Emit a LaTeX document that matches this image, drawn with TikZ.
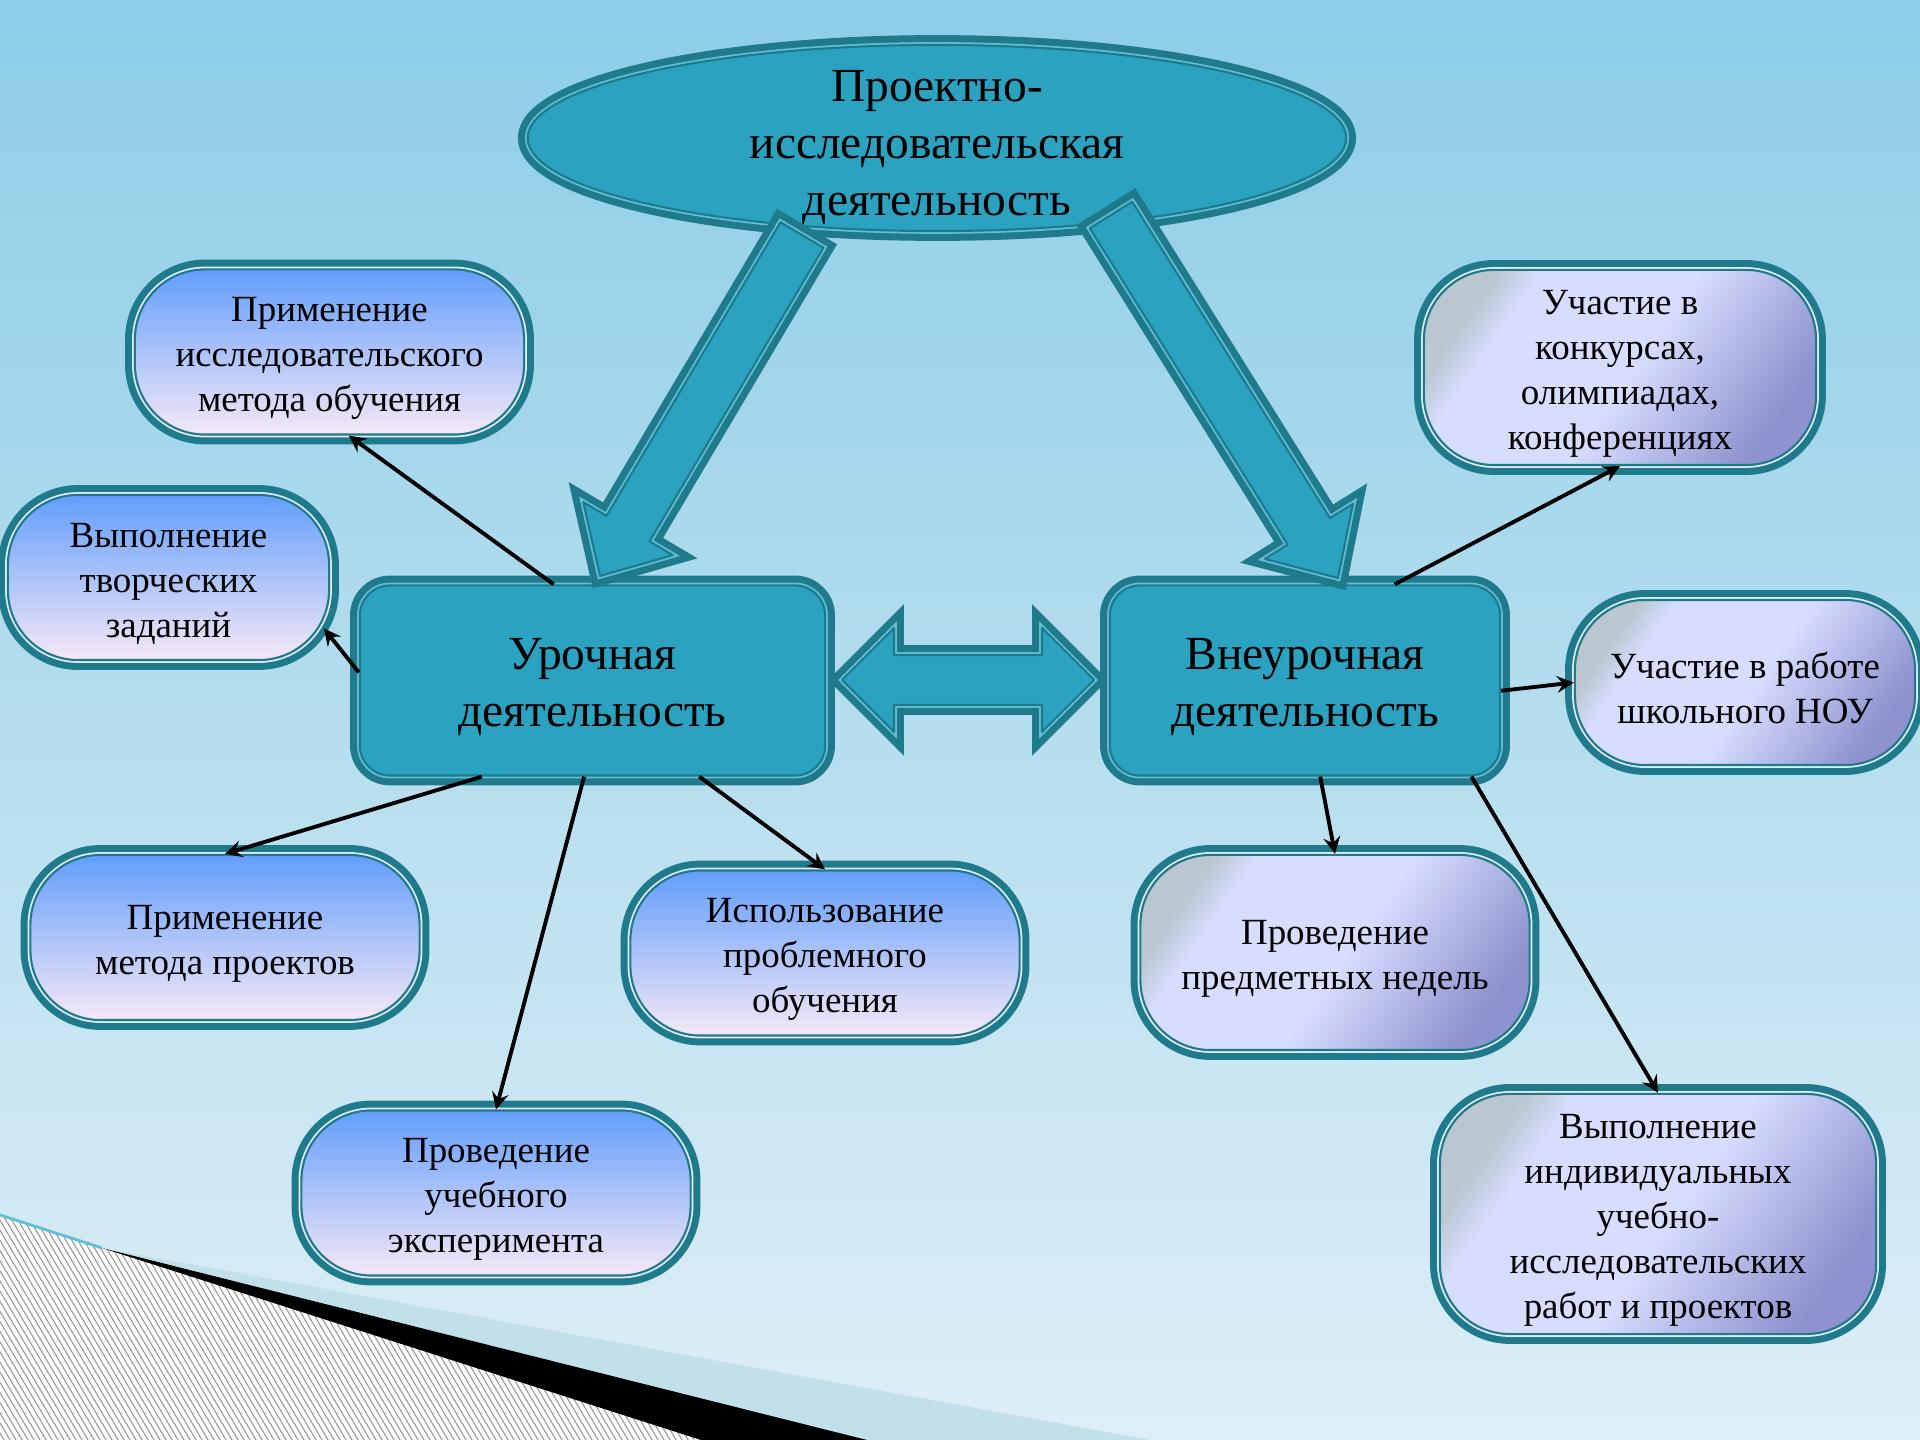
\documentclass[tikz,border=0pt]{standalone}
\usepackage{fontspec}
\setmainfont{Liberation Serif}
\usetikzlibrary{shapes.geometric,calc}

\definecolor{bgtop}{RGB}{140,205,231}
\definecolor{bgbot}{RGB}{222,238,246}
\definecolor{seablue}{RGB}{43,162,192}
\definecolor{seadark}{RGB}{31,122,140}
\definecolor{sealight}{RGB}{96,190,214}
\definecolor{rimlight}{RGB}{226,236,245}
\definecolor{blueT}{RGB}{98,158,252}
\definecolor{blueB}{RGB}{245,232,246}
\definecolor{lavA}{RGB}{186,198,208}
\definecolor{lavB}{RGB}{214,221,254}
\definecolor{lavC}{RGB}{142,146,206}
\definecolor{bandc}{RGB}{194,224,234}
\definecolor{hatchc}{RGB}{150,150,150}

\pgfdeclarehorizontalshading{lavshade}{100bp}{color(0bp)=(lavA); color(25bp)=(lavA); color(31bp)=(lavB); color(52bp)=(lavB); color(75bp)=(lavC); color(100bp)=(lavC)}

% lowers the text block a little
\newcommand{\txtlift}[1][1em]{\rule{0pt}{#1}}

\tikzset{
  deep/.style={fill=seablue, draw=seadark, line width=0.6pt, line join=round,
    preaction={draw=seadark, double=sealight, double distance=1.6pt, line width=2pt}},
  box/.style={deep, rectangle, rounded corners=0.3cm, align=center, inner sep=0pt,
    font=\fontsize{13.5}{16.2}\selectfont, minimum height=1.9cm},
  blob/.style={rectangle, rounded corners=0.7cm, inner sep=0pt, align=center,
    font=\fontsize{10.5}{12.8}\selectfont, draw=seadark, line width=0.6pt,
    preaction={draw=seadark, double=rimlight, double distance=1.6pt, line width=2pt},
    minimum width=3.89cm, minimum height=1.65cm},
  blueblob/.style={blob, top color=blueT, bottom color=blueB},
  lavblob/.style={blob, shading=lavshade, shading angle=-35},
  link/.style={->, >=stealth, line width=1.1pt},
}

% fat teal arrow from #1 to #2
\newcommand{\fatarrow}[2]{%
  \coordinate (hb) at ($(#2)!0.55cm!(#1)$);
  \draw[deep] ($(#1)!0.25cm!90:(#2)$) -- ($(hb)!0.25cm!90:(#2)$)
    -- ($(hb)!0.52cm!90:(#2)$) -- (#2) -- ($(hb)!0.52cm!-90:(#2)$)
    -- ($(hb)!0.25cm!-90:(#2)$) -- ($(#1)!0.25cm!-90:(#2)$) -- cycle;
}

\begin{document}
\begin{tikzpicture}[x=0.01cm,y=-0.01cm]
  \useasboundingbox (0,0) rectangle (1920,1440);
  \clip (0,0) rectangle (1920,1440);
  \fill[top color=bgtop, bottom color=bgbot] (0,0) rectangle (1920,1440);

  % corner decoration
  \begin{scope}
    \clip (0,1215) -- (701,1440) -- (0,1440) -- cycle;
    \fill[white] (0,1200) rectangle (720,1440);
    \foreach \i in {-300,-294,...,720}
      \draw[hatchc, line width=0.3pt] (\i,1200) -- ++(148,250);
  \end{scope}
  \draw[sealight, line width=0.8pt] (0,1215) -- (102,1248);
  \fill[bandc] (102,1248) -- (1150,1440) -- (867,1440) -- cycle;
  \fill[black] (102,1248) -- (867,1440) -- (701,1440) -- cycle;

  % main shapes
  \node[deep, ellipse, minimum width=8.18cm, minimum height=1.86cm, inner xsep=0pt,
    inner ysep=-0.25cm, align=center, font=\fontsize{13.5}{16.2}\selectfont] (pid) at (937,138)
    {\txtlift[1.04em]Проектно-\\исследовательская\\деятельность};
  \node[box, minimum width=4.65cm] (ur) at (592.5,680.5) {\txtlift[0.93em]Урочная\\деятельность};
  \node[box, minimum width=3.9cm] (vn) at (1305,680.5) {\txtlift[0.93em]Внеурочная\\деятельность};

  \node[blueblob] (n1) at (329.5,352) {\txtlift Применение\\исследовательского\\метода обучения};
  \node[blueblob, minimum width=3.21cm] (n2) at (168.5,577.5) {\txtlift Выполнение\\творческих\\заданий};
  \node[blueblob] (n3) at (225,937.5) {\txtlift Применение\\метода проектов};
  \node[blueblob] (n4) at (825,953) {\txtlift Использование\\проблемного\\обучения};
  \node[blueblob] (n5) at (496,1193) {\txtlift Проведение\\учебного\\эксперимента};

  \node[lavblob, minimum width=3.92cm, minimum height=1.95cm] (n6) at (1620,367.5)
    {\txtlift Участие в\\конкурсах,\\олимпиадах,\\конференциях};
  \node[lavblob, minimum width=3.4cm] (n7) at (1745,682.5) {\txtlift Участие в работе\\школьного НОУ};
  \node[lavblob, minimum height=1.95cm] (n8) at (1335,952.5) {\txtlift Проведение\\предметных недель};
  \node[lavblob, minimum width=4.36cm, minimum height=2.4cm] (n9) at (1658,1214)
    {\txtlift Выполнение\\индивидуальных\\учебно-\\исследовательских\\работ и проектов};

  % fat arrows
  \coordinate (ls) at (802,235);
  \coordinate (lt) at (600,576);
  \coordinate (rs) at (1111,215);
  \coordinate (rt) at (1338,578);
  \fatarrow{ls}{lt}
  \fatarrow{rs}{rt}
  \draw[deep] (842,680) -- (894,628) -- (894,655) -- (1042,655) -- (1042,628) -- (1094,680)
    -- (1042,732) -- (1042,705) -- (894,705) -- (894,732) -- cycle;

  % links
  \draw[link] (ur.112) -- (n1.-77);
  \draw[link, shorten >=-0.1cm] (ur.178) -- (n2.-20);
  \draw[link] (ur.-139) -- (n3.north);
  \draw[link] (ur.-95) -- (n5.north);
  \draw[link] (ur.-42) -- (n4.north);
  \draw[link] (vn.47) -- (n6.south);
  \draw[link] (vn.-3) -- (n7.west);
  \draw[link] (vn.-81) -- (n8.north);
  \draw[link] (vn.-30) -- (n9.north);
\end{tikzpicture}
\end{document}
